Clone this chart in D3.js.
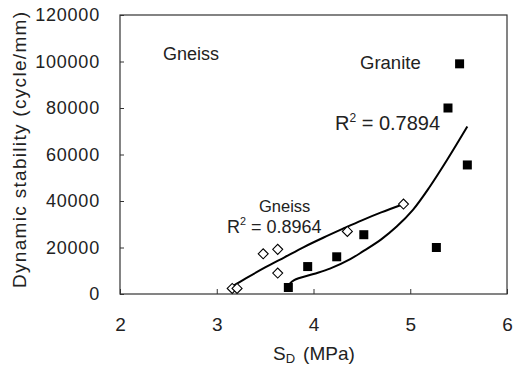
<!DOCTYPE html>
<html><head><meta charset="utf-8">
<script src="https://cdn.jsdelivr.net/npm/d3@7"></script>
<style>
html,body{margin:0;padding:0;background:#fff;}
svg{display:block;font-family:"Liberation Sans",Arial,sans-serif;}
</style></head>
<body>
<svg id="c" width="521" height="368"></svg>
<script>
// Data
const xTicks = [2, 3, 4, 5, 6];
const yTicks = [0, 20000, 40000, 60000, 80000, 100000, 120000];
const graniteX = [5.51, 5.39, 5.59, 5.27, 4.52, 4.24, 3.94, 3.74];
const graniteY = [99000, 80000, 55500, 20000, 25500, 16000, 11800, 2800];
const gneissX = [4.93, 4.35, 3.63, 3.48, 3.63, 3.16, 3.21];
const gneissY = [38700, 26900, 19200, 17300, 9000, 2400, 2400];
// trend lines
const gneissTrendX = [3.15, 3.3, 3.5, 3.7, 3.9, 4.1, 4.3, 4.5, 4.7, 4.92];
const gneissTrendY = [3000, 6700, 11400, 15800, 20200, 24200, 28000, 31700, 35100, 38500];
const graniteTrendX = [3.75, 3.8, 4.0, 4.17, 4.38, 4.51, 4.7, 4.86, 5.03, 5.2, 5.38, 5.59];
const graniteTrendY = [4200, 6000, 8600, 10900, 15000, 18300, 23500, 29000, 36300, 46000, 57600, 72000];

const svg = d3.select("#c");
const L = 120, R = 507, T = 15, B = 294;
const x = d3.scaleLinear().domain([2, 6]).range([L, R]);
const y = d3.scaleLinear().domain([0, 120000]).range([B, T]);
const ink = "#222";

// frame
svg.append("rect").attr("x", L).attr("y", T).attr("width", R - L).attr("height", B - T)
  .attr("fill", "none").attr("stroke", "#333").attr("stroke-width", 1.2);

// y axis
const ya = svg.append("g").attr("transform", `translate(${L},0)`)
  .call(d3.axisLeft(y).tickValues(yTicks).tickSize(-4).tickPadding(20).tickFormat(d3.format("d")));
ya.select(".domain").remove();
ya.selectAll("line").attr("stroke", "#333");
ya.selectAll("text").attr("font-size", 18).attr("fill", ink).attr("letter-spacing", 0.8);

// x axis
const xa = svg.append("g").attr("transform", `translate(0,${B})`)
  .call(d3.axisBottom(x).tickValues(xTicks).tickSize(-5).tickPadding(24).tickFormat(d3.format("d")));
xa.select(".domain").remove();
xa.selectAll("line").attr("stroke", "#333");
xa.selectAll("text").attr("font-size", 19).attr("fill", ink);

// titles
svg.append("text").attr("transform", "translate(26,150) rotate(-90)")
  .attr("text-anchor", "middle").attr("font-size", 19).attr("fill", ink)
  .attr("textLength", 276).attr("lengthAdjust", "spacing")
  .text("Dynamic stability (cycle/mm)");
const xt = svg.append("text").attr("x", 273).attr("y", 360).attr("font-size", 19).attr("fill", ink);
xt.append("tspan").text("S");
xt.append("tspan").attr("font-size", 13).attr("dy", 3).text("D");
xt.append("tspan").attr("dy", -3).attr("dx", 8).text("(MPa)");

// trend lines
const line = d3.line().x(d => x(d[0])).y(d => y(d[1])).curve(d3.curveCatmullRom.alpha(0.5));
svg.append("path").datum(gneissTrendX.map((v, i) => [v, gneissTrendY[i]]))
  .attr("d", line).attr("fill", "none").attr("stroke", "#000").attr("stroke-width", 2);
svg.append("path").datum(graniteTrendX.map((v, i) => [v, graniteTrendY[i]]))
  .attr("d", line).attr("fill", "none").attr("stroke", "#000").attr("stroke-width", 2);

// markers
svg.append("g").selectAll("rect").data(graniteX.map((v, i) => [v, graniteY[i]])).join("rect")
  .attr("x", d => x(d[0]) - 4.5).attr("y", d => y(d[1]) - 4.5)
  .attr("width", 9).attr("height", 9).attr("fill", "#000");
svg.append("g").selectAll("path").data(gneissX.map((v, i) => [v, gneissY[i]])).join("path")
  .attr("d", d => { const cx = x(d[0]), cy = y(d[1]); return `M${cx - 5},${cy}L${cx},${cy - 5}L${cx + 5},${cy}L${cx},${cy + 5}Z`; })
  .attr("fill", "#fff").attr("stroke", "#000").attr("stroke-width", 1.1);

// annotations
function label(xp, yp, txt, size) {
  svg.append("text").attr("x", xp).attr("y", yp).attr("font-size", size).attr("fill", ink).text(txt);
}
label(163, 60, "Gneiss", 18);
label(360, 69, "Granite", 18.5);
label(259, 212, "Gneiss", 16.5);
function r2(xp, yp, val, size) {
  const t = svg.append("text").attr("x", xp).attr("y", yp).attr("font-size", size).attr("fill", ink);
  t.append("tspan").text("R");
  t.append("tspan").attr("font-size", size * 0.6).attr("dy", -8).text("2");
  t.append("tspan").attr("dy", 8).text(" = " + val);
}
r2(335, 130, "0.7894", 20);
r2(227, 233, "0.8964", 18);
</script>
</body></html>
